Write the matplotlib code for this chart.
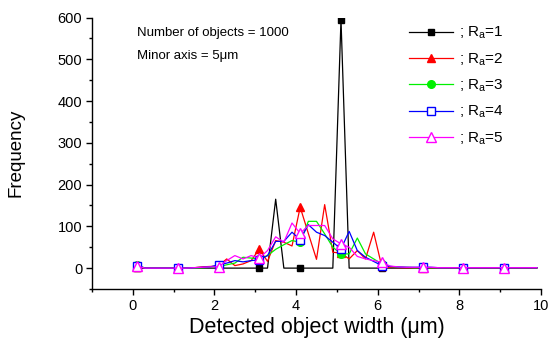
import matplotlib
matplotlib.use("Agg")
import matplotlib.pyplot as plt
from matplotlib.ticker import MultipleLocator

plt.rcParams['font.family'] = ['Liberation Sans', 'DejaVu Sans']
plt.rcParams['mathtext.fontset'] = 'custom'
plt.rcParams['mathtext.rm'] = 'Liberation Sans'
plt.rcParams['mathtext.it'] = 'Liberation Sans:italic'

# Detected object width (um)
x = [0.1, 0.3, 0.5, 0.7, 0.9, 1.1, 1.3, 1.5, 1.7, 1.9,
     2.1, 2.3, 2.5, 2.7, 2.9, 3.1, 3.3, 3.5, 3.7, 3.9,
     4.1, 4.3, 4.5, 4.7, 4.9, 5.1, 5.3, 5.5, 5.7, 5.9,
     6.1, 6.3, 6.5, 6.7, 6.9, 7.1, 7.3, 7.5, 7.7, 7.9,
     8.1, 8.3, 8.5, 8.7, 8.9, 9.1, 9.3, 9.5, 9.7, 9.9]

ra1 = [0, 0, 0, 0, 0, 0, 0, 0, 0, 0,
       0, 0, 0, 0, 0, 0, 0, 165, 0, 0,
       0, 0, 0, 0, 0, 595, 0, 0, 0, 0,
       0, 0, 0, 0, 0, 0, 0, 0, 0, 0,
       0, 0, 0, 0, 0, 0, 0, 0, 0, 0]
ra2 = [3, 0, 0, 0, 0, 0, 0, 1, 3, 4,
       5, 22, 6, 10, 18, 46, 16, 66, 62, 53,
       146, 83, 21, 152, 38, 36, 22, 42, 22, 86,
       4, 2, 1, 1, 1, 1, 1, 1, 1, 1,
       1, 1, 1, 1, 1, 1, 1, 1, 1, 1]
ra3 = [8, 0, 0, 0, 0, 0, 0, 0, 1, 2,
       3, 8, 12, 26, 24, 22, 30, 45, 56, 66,
       62, 112, 112, 82, 50, 34, 34, 72, 34, 22,
       10, 4, 2, 2, 1, 1, 1, 1, 1, 1,
       1, 1, 1, 1, 1, 1, 1, 1, 1, 1]
ra4 = [6, 0, 0, 0, 0, 0, 0, 1, 2, 3,
       8, 12, 18, 15, 18, 20, 30, 64, 64, 86,
       68, 104, 86, 78, 62, 46, 88, 42, 26, 16,
       6, 4, 3, 2, 2, 2, 2, 1, 1, 1,
       1, 1, 1, 1, 1, 1, 1, 1, 1, 1]
ra5 = [5, 0, 0, 0, 0, 0, 0, 1, 2, 3,
       3, 18, 30, 22, 30, 24, 42, 75, 62, 108,
       83, 102, 102, 102, 70, 58, 50, 28, 22, 18,
       14, 5, 3, 2, 2, 2, 2, 1, 1, 1,
       1, 1, 1, 1, 1, 1, 1, 1, 1, 1]

labels = [r'; R$_{\mathrm{a}}$=1', r'; R$_{\mathrm{a}}$=2', r'; R$_{\mathrm{a}}$=3',
          r'; R$_{\mathrm{a}}$=4', r'; R$_{\mathrm{a}}$=5']

fig = plt.figure(figsize=(5.57, 3.54), dpi=100)
ax = fig.add_axes([92/557, (354-289)/354, (541-92)/557, (289-17.5)/354])

styles = [
    dict(color='black', marker='s', mfc='black', mec='black', ms=5),
    dict(color='#ff0000', marker='^', mfc='#ff0000', mec='#ff0000', ms=6),
    dict(color='#00f000', marker='o', mfc='#00f000', mec='#00f000', ms=5.5),
    dict(color='#0000ff', marker='s', mfc='white', mec='#0000ff', ms=5.5),
    dict(color='#ff00ff', marker='^', mfc='white', mec='#ff00ff', ms=6.5),
]
series = [ra1, ra2, ra3, ra4, ra5]
for ys, st, lab in zip(series, styles, labels):
    ax.plot(x, ys, lw=0.9, markevery=5, mew=1.0, label=lab, **st)

ax.set_xlim(-1, 10)
ax.set_ylim(-50, 600)
ax.xaxis.set_major_locator(MultipleLocator(2))
ax.xaxis.set_minor_locator(MultipleLocator(1))
ax.yaxis.set_major_locator(MultipleLocator(100))
ax.yaxis.set_minor_locator(MultipleLocator(50))
for s in ['top', 'right']:
    ax.spines[s].set_visible(False)
for s in ['left', 'bottom']:
    ax.spines[s].set_linewidth(1.0)
ax.tick_params(which='major', direction='out', length=4, width=1.0, labelsize=10.5, pad=3)
ax.tick_params(which='minor', direction='out', length=2.5, width=1.0)

ax.set_xlabel('Detected object width (\u03bcm)', fontsize=15.5, labelpad=3)
ax.set_ylabel('Frequency', fontsize=13.5, labelpad=24)

fig.text(137/557, 1-33/354, 'Number of objects = 1000', fontsize=9.5, va='center', ha='left')
fig.text(137/557, 1-56/354, 'Minor axis = 5\u03bcm', fontsize=9.5, va='center', ha='left')

leg = fig.legend(loc='upper left', bbox_to_anchor=(409/557, 1-25/354), frameon=False,
                 fontsize=11, handlelength=2.9, handletextpad=0.35, labelspacing=0.65,
                 borderpad=0, borderaxespad=0)

fig.savefig('out.png', dpi=100)
